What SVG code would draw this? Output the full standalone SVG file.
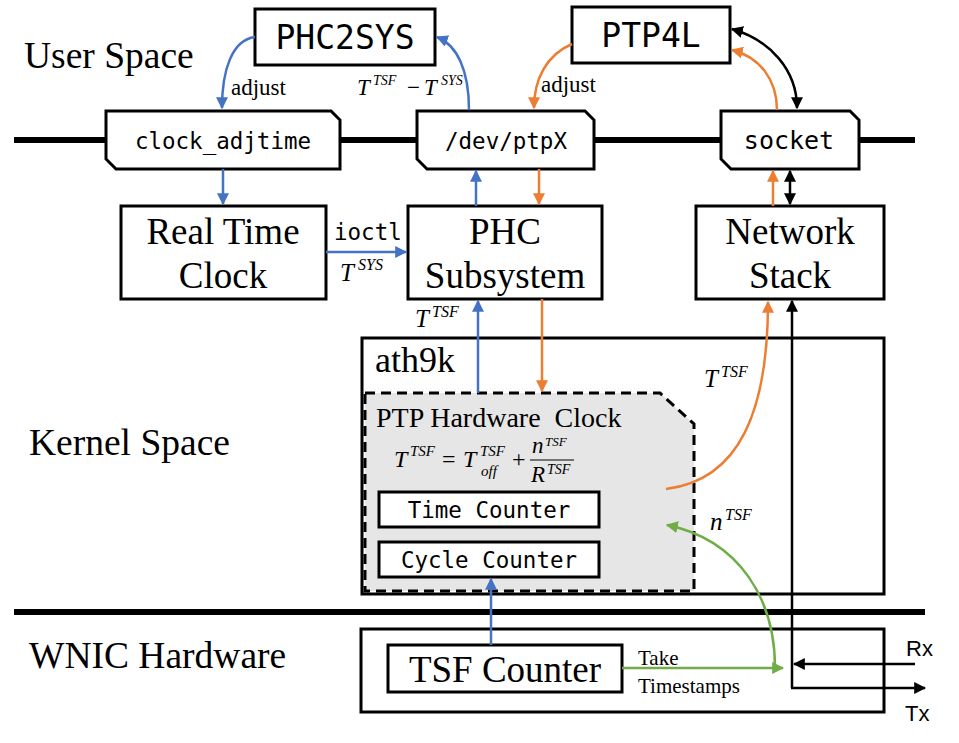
<svg xmlns="http://www.w3.org/2000/svg" width="959" height="743" viewBox="0 0 959 743">
<defs>
<style>
.box{fill:#fff;stroke:#000;stroke-width:3}
.bar{stroke:#000;stroke-width:6}
.ser{font-family:"Liberation Serif","Times New Roman",serif;fill:#000}
.mono{font-family:"DejaVu Sans Mono","Liberation Mono",monospace;fill:#000}
.sans{font-family:"Liberation Sans",Arial,sans-serif;fill:#000}
.math{font-family:"Liberation Serif","Times New Roman",serif;font-style:italic;fill:#000}
.b{fill:none;stroke:#4472C4;stroke-width:2.5}
.o{fill:none;stroke:#ED7D31;stroke-width:2.5}
.g{fill:none;stroke:#70AD47;stroke-width:2.5}
.k{fill:none;stroke:#000;stroke-width:2.5}
</style>
<marker id="mb" viewBox="0 0 10 10" refX="9" refY="5" markerWidth="12" markerHeight="12" markerUnits="userSpaceOnUse" orient="auto-start-reverse"><path d="M0,0L10,5L0,10z" fill="#4472C4"/></marker>
<marker id="mo" viewBox="0 0 10 10" refX="9" refY="5" markerWidth="12" markerHeight="12" markerUnits="userSpaceOnUse" orient="auto-start-reverse"><path d="M0,0L10,5L0,10z" fill="#ED7D31"/></marker>
<marker id="mg" viewBox="0 0 10 10" refX="9" refY="5" markerWidth="12" markerHeight="12" markerUnits="userSpaceOnUse" orient="auto-start-reverse"><path d="M0,0L10,5L0,10z" fill="#70AD47"/></marker>
<marker id="mk" viewBox="0 0 10 10" refX="9" refY="5" markerWidth="12" markerHeight="12" markerUnits="userSpaceOnUse" orient="auto-start-reverse"><path d="M0,0L10,5L0,10z" fill="#000"/></marker>
</defs>
<rect width="959" height="743" fill="#fff"/>

<g id="layers">
<line class="bar" x1="14" y1="140" x2="915" y2="140"/>
<line class="bar" x1="14" y1="612" x2="925" y2="612"/>
<text class="ser" x="24" y="68" font-size="37.5">User Space</text>
<text class="ser" x="29" y="455" font-size="37.5">Kernel Space</text>
<text class="ser" x="29" y="668" font-size="37.5">WNIC Hardware</text>
</g>

<g id="phc2sys">
<rect class="box" x="255" y="9" width="180" height="56"/>
<text class="mono" x="345" y="49" font-size="33" text-anchor="middle">PHC2SYS</text>
</g>
<g id="ptp4l">
<rect class="box" x="572" y="7" width="158" height="56"/>
<text class="mono" x="651" y="47" font-size="33" text-anchor="middle">PTP4L</text>
</g>
<g id="clock_adjtime">
<polygon class="box" points="106,111 331,111 340,120 340,169 116,169 106,159"/>
<text class="mono" x="223" y="149" font-size="22.5" text-anchor="middle">clock_adjtime</text>
</g>
<g id="devptpx">
<polygon class="box" points="417,111 585,111 594,120 594,169 427,169 417,159"/>
<text class="mono" x="506" y="149" font-size="22.5" text-anchor="middle">/dev/ptpX</text>
</g>
<g id="socket">
<polygon class="box" points="721,111 850,111 859,120 859,169 731,169 721,159"/>
<text class="mono" x="789" y="149" font-size="25" text-anchor="middle">socket</text>
</g>
<g id="rtc">
<rect class="box" x="121" y="206" width="205" height="93"/>
<text class="ser" x="223" y="244" font-size="37" text-anchor="middle">Real Time</text>
<text class="ser" x="223" y="288" font-size="37" text-anchor="middle">Clock</text>
</g>
<g id="phc">
<rect class="box" x="408" y="206" width="194" height="93"/>
<text class="ser" x="505" y="244" font-size="37" text-anchor="middle">PHC</text>
<text class="ser" x="505" y="288" font-size="37" text-anchor="middle">Subsystem</text>
</g>
<g id="netstack">
<rect class="box" x="696" y="206" width="188" height="93"/>
<text class="ser" x="790" y="244" font-size="37" text-anchor="middle">Network</text>
<text class="ser" x="790" y="288" font-size="37" text-anchor="middle">Stack</text>
</g>

<g id="ath9k">
<rect x="362" y="338" width="522" height="256" fill="#fff" stroke="none"/>
<path d="M365,393 L660,393 L694,424 L694,591 L365,591 Z" fill="#e6e6e6" stroke="#000" stroke-width="3" stroke-dasharray="10,6"/>
<rect x="362" y="338" width="522" height="256" fill="none" stroke="#000" stroke-width="3"/>
<text class="ser" x="375" y="372" font-size="36">ath9k</text>
</g>
<g id="ptp_hw_clock">
<text class="ser" x="376" y="427" font-size="28" xml:space="preserve">PTP Hardware  Clock</text>
<text class="math" x="394" y="467" font-size="24">T</text>
<text class="math" x="410" y="456" font-size="15">TSF</text>
<text class="ser" x="442" y="467" font-size="24">=</text>
<text class="math" x="463" y="467" font-size="24">T</text>
<text class="math" x="480" y="456" font-size="15">TSF</text>
<text class="math" x="481" y="476" font-size="15">off</text>
<text class="ser" x="512" y="467" font-size="24">+</text>
<text class="math" x="532" y="453" font-size="23">n</text>
<text class="math" x="545" y="446" font-size="13">TSF</text>
<line x1="530" y1="460" x2="574" y2="460" stroke="#000" stroke-width="1.2"/>
<text class="math" x="531" y="482" font-size="23">R</text>
<text class="math" x="547" y="474" font-size="14">TSF</text>
</g>
<g id="time_counter">
<rect class="box" x="379" y="492" width="220" height="35"/>
<text class="mono" x="489" y="518" font-size="22.5" text-anchor="middle">Time Counter</text>
</g>
<g id="cycle_counter">
<rect class="box" x="379" y="542" width="220" height="35"/>
<text class="mono" x="489" y="568" font-size="22.5" text-anchor="middle">Cycle Counter</text>
</g>

<g id="wnic">
<rect class="box" x="361" y="629" width="523" height="83"/>
</g>
<g id="tsf_counter">
<rect class="box" x="388" y="645" width="234" height="47"/>
<text class="ser" x="505" y="682" font-size="37" text-anchor="middle">TSF Counter</text>
</g>

<g id="connectors">
<path class="b" d="M255,37 C232,40 222,70 222,108" marker-end="url(#mb)"/>
<path class="b" d="M469,110 C469,70 457,45 437,37" marker-end="url(#mb)"/>
<path class="b" d="M223,169 L223,204" marker-end="url(#mb)"/>
<path class="b" d="M476,206 L476,171" marker-end="url(#mb)"/>
<path class="b" d="M326,252 L406,252" marker-end="url(#mb)"/>
<path class="b" d="M478,393 L478,301" marker-end="url(#mb)"/>
<path class="b" d="M491,645 L491,579" marker-end="url(#mb)"/>
<path class="o" d="M572,44 C546,55 534,80 534,108" marker-end="url(#mo)"/>
<path class="o" d="M777,110 C777,80 760,57 732,50" marker-end="url(#mo)"/>
<path class="o" d="M539,169 L539,204" marker-end="url(#mo)"/>
<path class="o" d="M542,299 L542,391" marker-end="url(#mo)"/>
<path class="o" d="M773,206 L773,171" marker-end="url(#mo)"/>
<path class="o" d="M666,489 C740,480 768,410 768,302" marker-end="url(#mo)"/>
<path class="k" d="M732,29 C770,40 797,70 797,108" marker-start="url(#mk)" marker-end="url(#mk)"/>
<path class="k" d="M790,171 L790,204" marker-start="url(#mk)" marker-end="url(#mk)"/>
<path class="k" d="M792,688 L792,301" marker-end="url(#mk)"/>
<path class="k" d="M915,664 L794,664" marker-end="url(#mk)"/>
<path class="k" d="M791,688 L925,688" marker-end="url(#mk)"/>
<path class="g" d="M622,668 L783,668" marker-end="url(#mg)"/>
<path class="g" d="M775,668 C775,600 740,540 667,525" marker-end="url(#mg)"/>
</g>

<g id="labels">
<text class="ser" x="231" y="95" font-size="23">adjust</text>
<text class="ser" x="541" y="92" font-size="23">adjust</text>
<text class="math" x="357" y="95" font-size="23">T</text>
<text class="math" x="373" y="85" font-size="14">TSF</text>
<text class="ser" x="407" y="95" font-size="23">−</text>
<text class="math" x="424" y="95" font-size="23">T</text>
<text class="math" x="441" y="85" font-size="14">SYS</text>
<text class="mono" x="334" y="240" font-size="22.5">ioctl</text>
<text class="math" x="340" y="281" font-size="25">T</text>
<text class="math" x="358" y="270" font-size="16">SYS</text>
<text class="math" x="415" y="327" font-size="25">T</text>
<text class="math" x="432" y="317" font-size="16">TSF</text>
<text class="math" x="704" y="387" font-size="25">T</text>
<text class="math" x="721" y="377" font-size="16">TSF</text>
<text class="math" x="710" y="530" font-size="25">n</text>
<text class="math" x="725" y="520" font-size="16">TSF</text>
<text class="ser" x="638" y="665" font-size="21">Take</text>
<text class="ser" x="638" y="693" font-size="21">Timestamps</text>
<text class="sans" x="906" y="656" font-size="22">Rx</text>
<text class="sans" x="905" y="721" font-size="22">Tx</text>
</g>
</svg>
